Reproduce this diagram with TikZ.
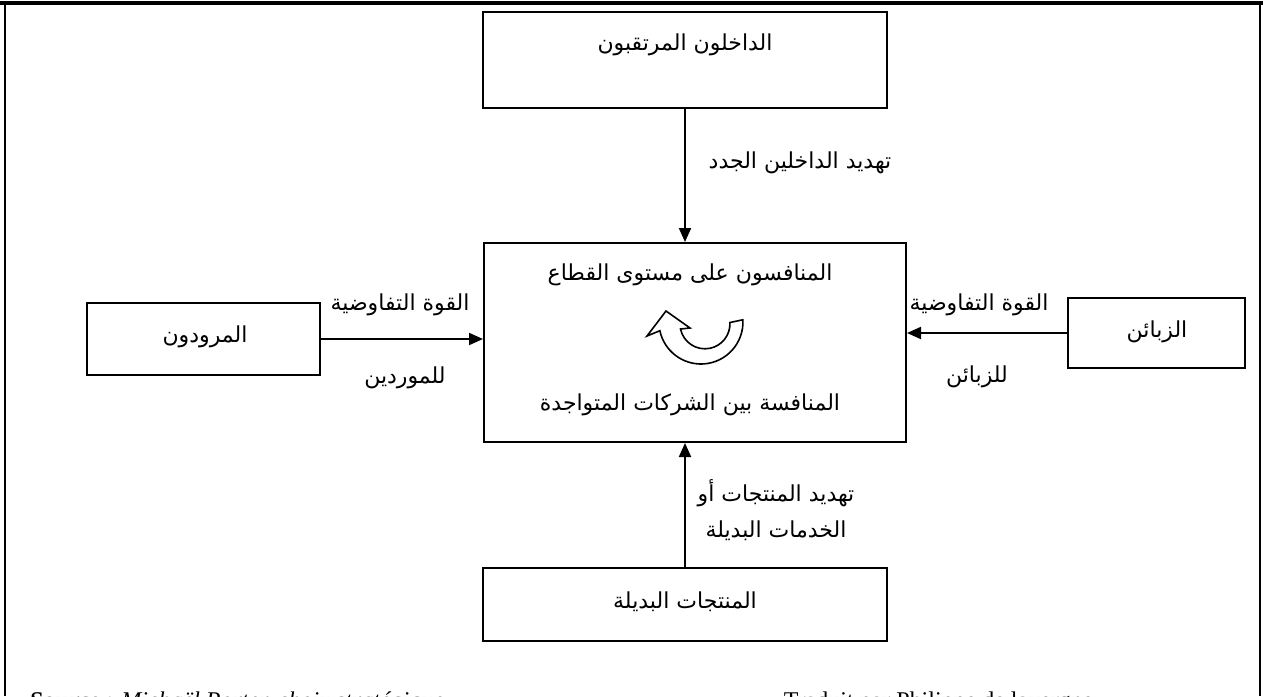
\documentclass[tikz,border=0pt]{standalone}
\usepackage{fontspec}
\setmainfont{Liberation Serif}
\newfontfamily\arabicfont[Script=Arabic]{DejaVu Sans}
\TeXXeTstate=1
\usetikzlibrary{arrows.meta}
\tikzset{
  box/.style={draw, line width=1pt, inner sep=0pt},
  conn/.style={line width=1pt, -{Triangle[length=7pt,width=6pt]}},
  ar/.style={font=\arabicfont\fontsize{11}{13}\selectfont, inner sep=0pt},
  frame/.style={line width=1pt},
}
\begin{document}
\begin{tikzpicture}[x=0.5pt,y=-0.5pt]
\useasboundingbox (0,0) rectangle (1263,696);
\clip (0,0) rectangle (1263,696);
% frame
\draw[line width=1.6pt] (0,3) -- (1263,3);
\draw[frame] (5,3) -- (5,696);
\draw[frame] (1260,3) -- (1260,696);
% boxes
\node[box, minimum width=202pt, minimum height=48pt] (top) at (685,60) {};
\node[ar] (toptxt) at (685,45) {\beginR الداخلون المرتقبون\endR};
\node[box, minimum width=211pt, minimum height=99.5pt] (center) at (695,342.5) {};
\node[ar] (ctop) at (690,275) {\beginR المنافسون على مستوى القطاع\endR};
\node[ar] (cbot) at (690,405) {\beginR المنافسة بين الشركات المتواجدة\endR};
\node[box, minimum width=116.5pt, minimum height=36pt] (left) at (203.5,339) {};
\node[ar] (lefttxt) at (205,337) {\beginR المرودون\endR};
\node[box, minimum width=88.5pt, minimum height=35pt] (right) at (1156.5,333) {};
\node[ar] (righttxt) at (1157,332) {\beginR الزبائن\endR};
\node[box, minimum width=202pt, minimum height=36.5pt] (bottom) at (685,604.5) {};
\node[ar] (bottomtxt) at (685,602) {\beginR المنتجات البديلة\endR};
% connectors
\draw[conn] (top.south) -- (top.south |- center.north);
\draw[conn] (left.east) -- (left.east -| center.west);
\draw[conn] (right.west) -- (right.west -| center.east);
\draw[conn] (bottom.north) -- (bottom.north |- center.south);
% labels
\node[ar] (l1) at (800,163) {\beginR تهديد الداخلين الجدد\endR};
\node[ar] (l2) at (400,305) {\beginR القوة التفاوضية\endR};
\node[ar] (l3) at (405,378) {\beginR للموردين\endR};
\node[ar] (l4) at (979,305) {\beginR القوة التفاوضية\endR};
\node[ar] (l5) at (977,377) {\beginR للزبائن\endR};
\node[ar, align=center] (l6) at (776,510) {\beginR تهديد المنتجات أو\endR\\[5pt]\beginR الخدمات البديلة\endR};
% circular arrow
\draw[line width=0.8pt, fill=white]
  (742.9,319.8) arc[start angle=-3, end angle=168, radius=42]
  -- (647,336) -- (666,311) -- (690,328) -- (680.5,329)
  arc[start angle=168, end angle=-3, radius=25] -- cycle;
% source
\node[anchor=base west, font=\fontsize{12}{14}\selectfont, inner sep=0pt] (src) at (30,708)
  {\textbf{Source} : \textit{Michaël Porter, choix stratégique}\hspace{170pt}Traduit par Philippe de lavergne};
\end{tikzpicture}
\end{document}
